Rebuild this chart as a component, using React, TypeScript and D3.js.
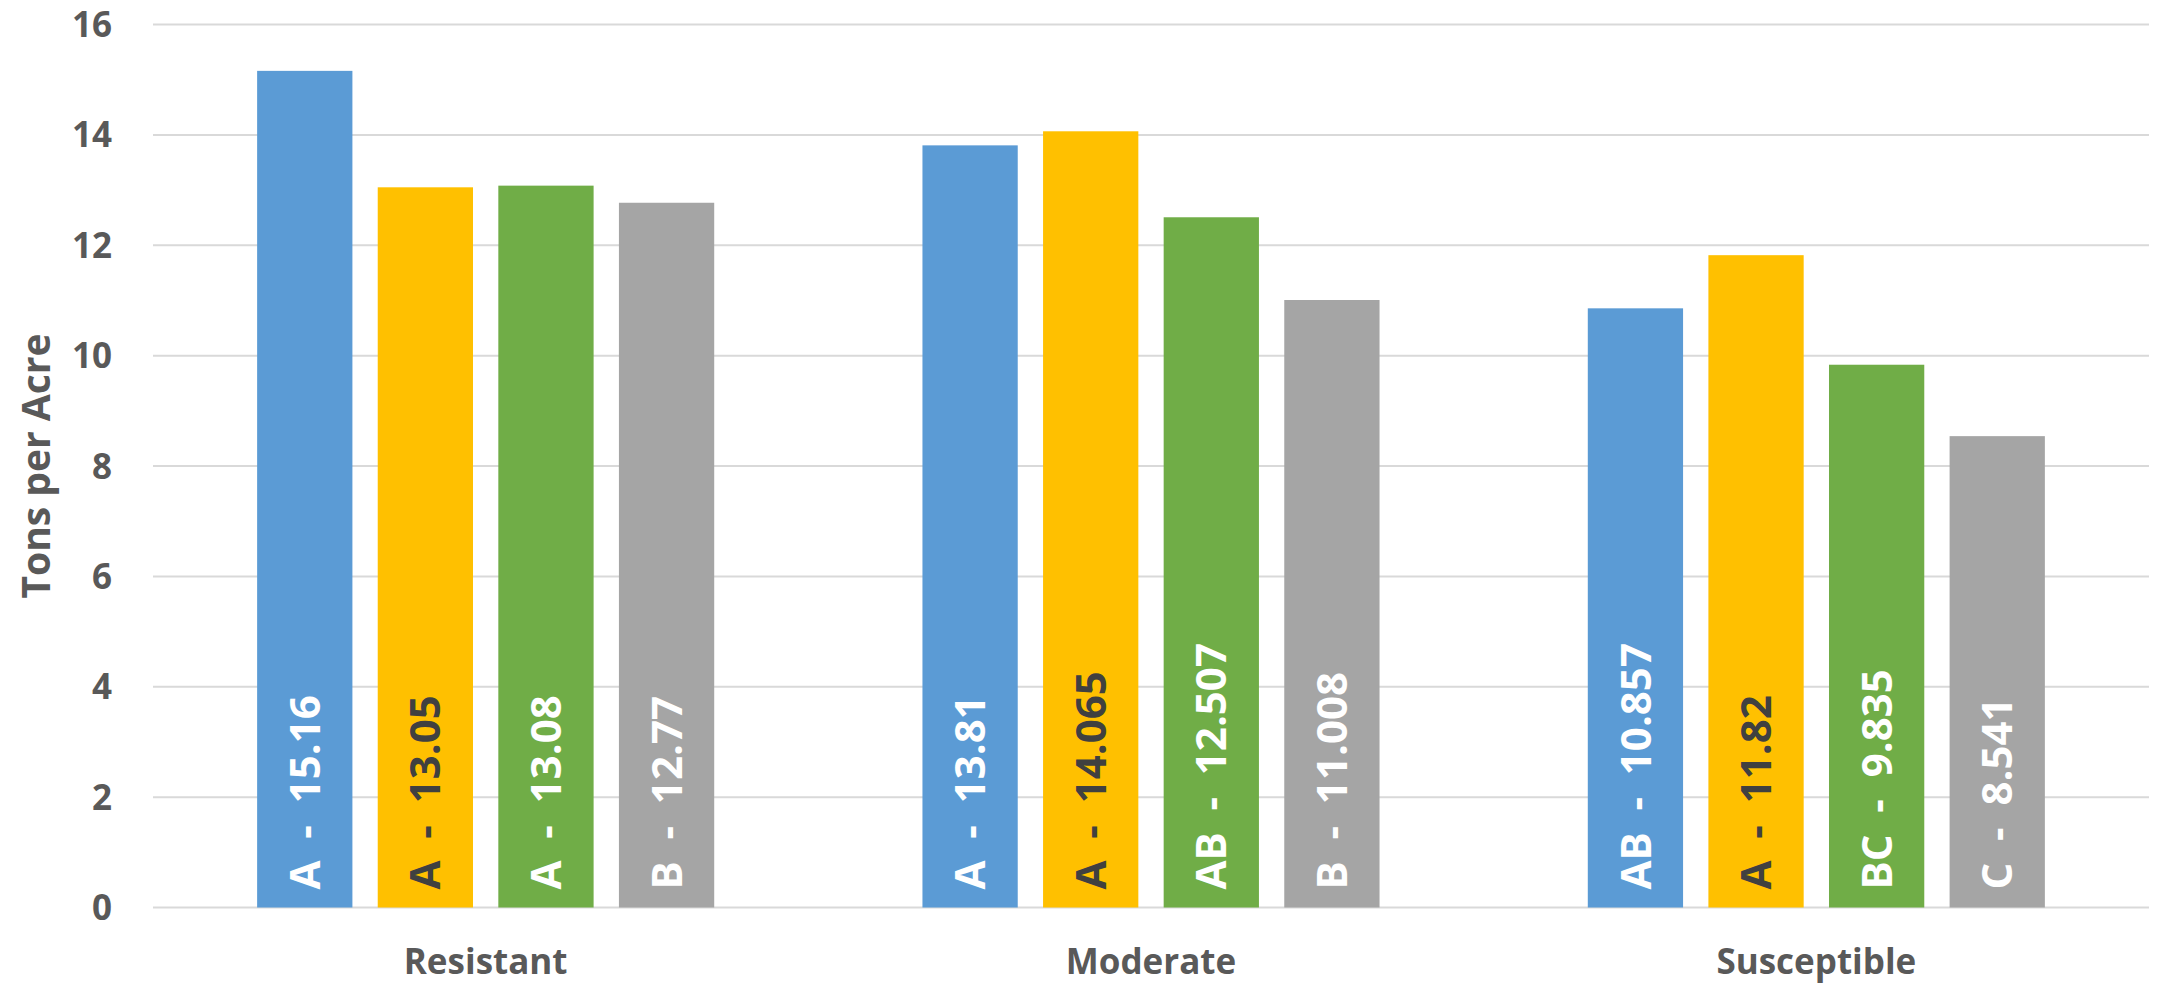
import { useEffect, useRef } from "react";
import * as d3 from "d3";

const categories = ["Resistant", "Moderate", "Susceptible"];
const series = ["s1", "s2", "s3", "s4"];
const values = [
  [15.16, 13.05, 13.08, 12.77],
  [13.81, 14.065, 12.507, 11.008],
  [10.857, 11.82, 9.835, 8.541],
];
const letters = [
  ["A", "A", "A", "B"],
  ["A", "A", "AB", "B"],
  ["AB", "A", "BC", "C"],
];
const yTicks = [0, 2, 4, 6, 8, 10, 12, 14, 16];
const colors = ["#5B9BD5", "#FFC000", "#70AD47", "#A5A5A5"];
const labelColors = ["#FFFFFF", "#404040", "#FFFFFF", "#FFFFFF"];

export default function App() {
  const ref = useRef<SVGSVGElement>(null);

  useEffect(() => {
    document.body.style.margin = "0";
    const width = 2162;
    const height = 983;
    const margin = { top: 24.5, right: 13, bottom: 75.5, left: 153 };
    const font = "'Open Sans', sans-serif";

    const svg = d3.select(ref.current);
    svg.selectAll("*").remove();
    svg.attr("width", width).attr("height", height);

    const x0 = d3
      .scaleBand()
      .domain(categories)
      .range([margin.left, width - margin.right])
      .paddingInner(0.313)
      .paddingOuter(0.1565);

    const x1 = d3
      .scaleBand()
      .domain(series)
      .range([0, x0.bandwidth()])
      .paddingInner(0.21);

    const y = d3
      .scaleLinear()
      .domain([0, 16])
      .range([height - margin.bottom, margin.top]);

    // gridlines
    svg
      .append("g")
      .selectAll("line")
      .data(yTicks)
      .enter()
      .append("line")
      .attr("x1", margin.left)
      .attr("x2", width - margin.right)
      .attr("y1", (d) => y(d))
      .attr("y2", (d) => y(d))
      .attr("stroke", "#D9D9D9")
      .attr("stroke-width", 2);

    // y tick labels
    svg
      .append("g")
      .selectAll("text")
      .data(yTicks)
      .enter()
      .append("text")
      .attr("x", 112)
      .attr("y", (d) => y(d))
      .attr("dy", "0.36em")
      .attr("text-anchor", "end")
      .attr("font-family", font)
      .attr("font-weight", 700)
      .attr("font-size", 35)
      .attr("fill", "#595959")
      .text((d) => d);

    // bars
    const groups = svg
      .append("g")
      .selectAll("g")
      .data(categories)
      .enter()
      .append("g")
      .attr("transform", (d) => `translate(${x0(d)},0)`);

    groups
      .selectAll("rect")
      .data((_, i) => values[i].map((v, j) => ({ v, j })))
      .enter()
      .append("rect")
      .attr("x", (d) => x1(series[d.j])!)
      .attr("y", (d) => y(d.v))
      .attr("width", x1.bandwidth())
      .attr("height", (d) => y(0) - y(d.v))
      .attr("fill", (d) => colors[d.j]);

    // labels inside base
    groups
      .selectAll("text")
      .data((_, i) =>
        values[i].map((v, j) => ({ v, j, l: letters[i][j] }))
      )
      .enter()
      .append("text")
      .attr(
        "transform",
        (d) =>
          `translate(${x1(series[d.j])! + x1.bandwidth() / 2},${y(0) - 18}) rotate(-90)`
      )
      .attr("dy", "0.36em")
      .attr("font-family", font)
      .attr("font-weight", 700)
      .attr("font-size", 42)
      .attr("fill", (d) => labelColors[d.j])
      .style("white-space", "pre")
      .text((d) => `${d.l}  -  ${d.v}`);

    // category labels
    svg
      .append("g")
      .selectAll("text")
      .data(categories)
      .enter()
      .append("text")
      .attr("x", (d) => x0(d)! + x0.bandwidth() / 2)
      .attr("y", 974)
      .attr("text-anchor", "middle")
      .attr("font-family", font)
      .attr("font-weight", 700)
      .attr("font-size", 35)
      .attr("fill", "#595959")
      .text((d) => d);

    // y axis title
    svg
      .append("text")
      .attr("transform", `translate(50,${y(8)}) rotate(-90)`)
      .attr("text-anchor", "middle")
      .attr("font-family", font)
      .attr("font-weight", 700)
      .attr("font-size", 39)
      .attr("fill", "#595959")
      .text("Tons per Acre");
  }, []);

  return <svg ref={ref}></svg>;
}
